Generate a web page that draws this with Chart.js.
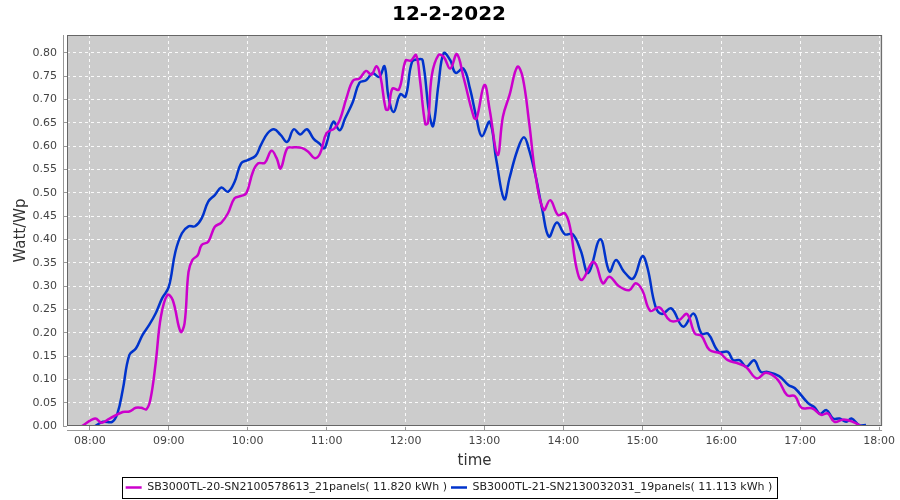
<!DOCTYPE html>
<html><head><meta charset="utf-8">
<script src="https://cdn.jsdelivr.net/npm/chart.js@4.4.0/dist/chart.umd.min.js"></script>
<style>html,body{margin:0;padding:0;background:#fff;}</style>
</head><body>
<canvas id="c" width="900" height="500" style="width:900px;height:500px;display:block"></canvas>
<script>
const chartTitle = '12-2-2022';
const xAxisTitle = 'time';
const yAxisTitle = 'Watt/Wp';
const seriesNames = [
  'SB3000TL-20-SN2100578613_21panels( 11.820 kWh )',
  'SB3000TL-21-SN2130032031_19panels( 11.113 kWh )'
];
const magentaTimes = ['7:54','8:04','8:09','8:15','8:25','8:30','8:35','8:39','8:43','8:46','8:50','8:54','8:59','9:03','9:09','9:12','9:15','9:18','9:22','9:25','9:30','9:35','9:40','9:45','9:50','9:55','9:59','10:04','10:08','10:13','10:18','10:22','10:25','10:30','10:34','10:41','10:46','10:51','10:55','11:00','11:06','11:10','11:15','11:20','11:25','11:30','11:34','11:38','11:41','11:45','11:47','11:50','11:55','12:00','12:04','12:08','12:11','12:15','12:17','12:20','12:25','12:29','12:34','12:39','12:44','12:52','12:54','13:00','13:04','13:10','13:14','13:19','13:25','13:29','13:34','13:39','13:45','13:50','13:56','14:01','14:05','14:10','14:14','14:22','14:25','14:30','14:35','14:42','14:50','14:55','15:00','15:06','15:13','15:21','15:28','15:34','15:40','15:45','15:51','15:59','16:05','16:13','16:19','16:27','16:34','16:43','16:50','16:56','17:01','17:09','17:16','17:21','17:26','17:33','17:40','17:46'];
const magentaValues = [0.000,0.016,0.007,0.016,0.030,0.031,0.039,0.039,0.036,0.056,0.134,0.234,0.281,0.270,0.202,0.220,0.330,0.356,0.366,0.388,0.395,0.427,0.436,0.456,0.488,0.493,0.499,0.545,0.563,0.564,0.590,0.574,0.552,0.595,0.597,0.596,0.588,0.574,0.584,0.628,0.638,0.656,0.702,0.740,0.745,0.761,0.753,0.771,0.748,0.679,0.679,0.723,0.721,0.783,0.783,0.795,0.741,0.647,0.649,0.752,0.795,0.791,0.766,0.797,0.748,0.661,0.659,0.731,0.677,0.581,0.663,0.709,0.770,0.748,0.649,0.534,0.463,0.484,0.452,0.456,0.427,0.338,0.313,0.351,0.345,0.306,0.320,0.300,0.291,0.306,0.291,0.247,0.254,0.226,0.227,0.240,0.198,0.193,0.163,0.156,0.141,0.134,0.126,0.102,0.114,0.099,0.066,0.064,0.039,0.038,0.024,0.027,0.009,0.014,0.009,0.000];
const blueTimes = ['8:04','8:10','8:17','8:21','8:25','8:30','8:35','8:40','8:45','8:50','8:55','9:00','9:05','9:10','9:15','9:20','9:25','9:30','9:35','9:40','9:45','9:50','9:55','10:00','10:06','10:10','10:15','10:20','10:25','10:30','10:35','10:40','10:45','10:50','10:55','10:58','11:00','11:05','11:10','11:14','11:20','11:25','11:30','11:35','11:40','11:44','11:47','11:51','11:56','12:00','12:05','12:10','12:13','12:18','12:21','12:25','12:29','12:34','12:38','12:44','12:49','12:54','12:58','13:04','13:09','13:15','13:19','13:25','13:30','13:34','13:39','13:44','13:49','13:55','14:01','14:07','14:13','14:19','14:28','14:35','14:40','14:46','14:53','15:00','15:04','15:10','15:15','15:22','15:31','15:39','15:45','15:50','15:58','16:05','16:09','16:14','16:19','16:25','16:30','16:35','16:44','16:51','16:56','17:06','17:11','17:15','17:20','17:25','17:30','17:35','17:39','17:45','17:50'];
const blueValues = [0.000,0.009,0.009,0.027,0.077,0.152,0.166,0.195,0.216,0.241,0.274,0.298,0.373,0.413,0.428,0.428,0.445,0.481,0.495,0.511,0.502,0.523,0.563,0.570,0.579,0.602,0.627,0.636,0.624,0.609,0.636,0.625,0.636,0.616,0.604,0.595,0.606,0.652,0.634,0.659,0.695,0.736,0.741,0.756,0.748,0.771,0.706,0.673,0.711,0.706,0.781,0.786,0.784,0.670,0.643,0.731,0.799,0.784,0.757,0.766,0.723,0.659,0.621,0.652,0.570,0.486,0.531,0.591,0.619,0.591,0.534,0.463,0.406,0.436,0.411,0.411,0.377,0.328,0.400,0.331,0.356,0.331,0.316,0.364,0.338,0.256,0.240,0.252,0.213,0.241,0.198,0.198,0.159,0.159,0.141,0.141,0.127,0.141,0.116,0.116,0.107,0.088,0.081,0.049,0.040,0.026,0.034,0.016,0.016,0.009,0.016,0.002,0.002];
const seriesColors = ['#CC00CC', '#0033CC'];

function toMin(s){ const p = s.split(':').map(Number); return p[0]*60 + p[1]; }
function pairs(times, vals){ return times.map((t,i)=>({x: toMin(t), y: vals[i]})); }
function fmtTime(v){ const h = Math.floor(v/60), m = Math.round(v%60); return String(h).padStart(2,'0')+':'+String(m).padStart(2,'0'); }

const FONT = '"DejaVu Sans", sans-serif';

const decor = {
  id: 'decor',
  beforeDraw(chart){
    const {ctx, chartArea:a} = chart;
    ctx.save();
    ctx.fillStyle = '#CCCCCC';
    ctx.fillRect(a.left, a.top, a.right-a.left, a.bottom-a.top);
    ctx.restore();
  },
  afterDraw(chart){
    const {ctx, chartArea:a} = chart;
    ctx.save();
    ctx.strokeStyle = '#666666';
    ctx.lineWidth = 1;
    ctx.strokeRect(a.left+0.5, a.top+0.5, a.right-a.left-1, a.bottom-a.top-1);
    ctx.strokeStyle = '#999999';
    ctx.beginPath();
    ctx.moveTo(a.left-3.5, a.top); ctx.lineTo(a.left-3.5, a.bottom);
    ctx.moveTo(a.left, a.bottom+4.5); ctx.lineTo(a.right, a.bottom+4.5);
    ctx.stroke();
    const lg = chart.legend;
    if (lg && lg.legendHitBoxes && lg.legendHitBoxes.length){
      const hb = lg.legendHitBoxes;
      const l = hb[0].left - 4;
      const r = hb[hb.length-1].left + hb[hb.length-1].width + 4;
      ctx.strokeStyle = '#000000';
      ctx.strokeRect(Math.round(l)+0.5, 477.5, Math.round(r-l), 21);
    }
    ctx.restore();
  }
};

new Chart(document.getElementById('c'), {
  type: 'line',
  data: {
    datasets: [
      { label: seriesNames[0], data: pairs(magentaTimes, magentaValues), borderColor: seriesColors[0], backgroundColor: seriesColors[0], borderWidth: 2.5, pointRadius: 0, tension: 0.4, fill: false },
      { label: seriesNames[1], data: pairs(blueTimes, blueValues), borderColor: seriesColors[1], backgroundColor: seriesColors[1], borderWidth: 2.5, pointRadius: 0, tension: 0.4, fill: false }
    ]
  },
  options: {
    responsive: false,
    animation: false,
    layout: { padding: { left: 10, right: 12, top: 0, bottom: 2 } },
    plugins: {
      title: { display: true, text: chartTitle, color: '#000', font: { family: FONT, size: 20, weight: 'bold' }, padding: { top: 3, bottom: 8 } },
      legend: {
        position: 'bottom',
        maxHeight: 20,
        labels: { color: '#222', font: { family: FONT, size: 11 }, usePointStyle: true, pointStyle: 'line', pointStyleWidth: 16, boxHeight: 11, padding: 4 }
      },
      tooltip: { enabled: false }
    },
    scales: {
      x: {
        type: 'linear',
        min: 462.64, max: 1082.26,
        afterFit(s){ s.height = 52; },
        ticks: { stepSize: 60, includeBounds: false, maxRotation: 0, autoSkip: false, color: '#444', font: { family: FONT, size: 11 }, padding: 5, callback: v => fmtTime(v) },
        grid: { color: 'rgba(255,255,255,0.9)', lineWidth: 1, drawTicks: true, tickLength: 4, tickColor: '#999', tickBorderDash: [] },
        border: { display: false, dash: [3, 3] },
        title: { display: true, text: xAxisTitle, color: '#333', font: { family: FONT, size: 15 }, padding: { top: 0, bottom: 8 } }
      },
      y: {
        min: 0, max: 0.838,
        afterFit(s){ s.width = 57; },
        ticks: { stepSize: 0.05, includeBounds: false, color: '#444', font: { family: FONT, size: 11 }, padding: 6, callback: v => v.toFixed(2) },
        grid: { color: 'rgba(255,255,255,0.9)', lineWidth: 1, drawTicks: true, tickLength: 4, tickColor: '#999', tickBorderDash: [] },
        border: { display: false, dash: [3, 3] },
        title: { display: true, text: yAxisTitle, color: '#333', font: { family: FONT, size: 15 }, padding: { top: 2, bottom: 0 } }
      }
    }
  },
  plugins: [decor]
});
</script>
</body></html>
